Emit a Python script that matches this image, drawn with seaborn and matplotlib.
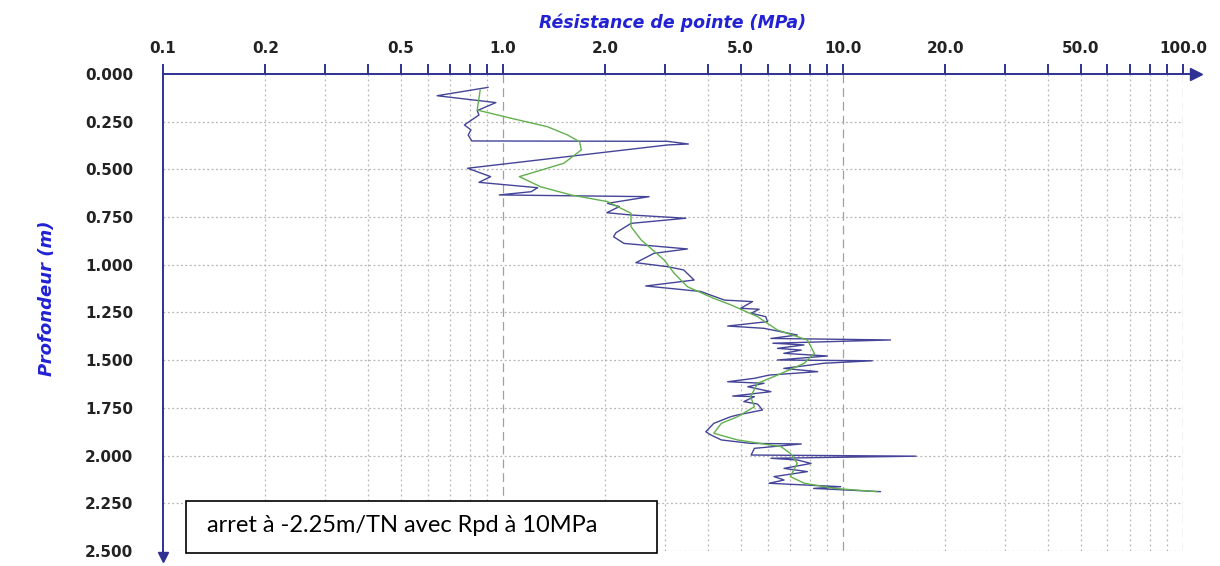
import numpy as np
import pandas as pd
import matplotlib
matplotlib.use('Agg')
import matplotlib.pyplot as plt
import seaborn as sns
from matplotlib.patches import Rectangle

# raw dynamic penetrometer reading (blue)
depth_raw = [0.070, 0.114, 0.150, 0.192, 0.215, 0.267, 0.293, 0.320, 0.351, 0.353,
             0.367, 0.372, 0.494, 0.538, 0.568, 0.596, 0.617, 0.634, 0.643, 0.678,
             0.695, 0.727, 0.739, 0.756, 0.783, 0.832, 0.853, 0.888, 0.917, 0.940,
             0.989, 1.010, 1.027, 1.080, 1.111, 1.140, 1.185, 1.193, 1.228, 1.233,
             1.254, 1.272, 1.298, 1.321, 1.333, 1.368, 1.386, 1.394, 1.411, 1.420,
             1.438, 1.447, 1.464, 1.478, 1.499, 1.503, 1.516, 1.543, 1.560, 1.578,
             1.595, 1.613, 1.621, 1.639, 1.665, 1.688, 1.691, 1.717, 1.730, 1.761,
             1.787, 1.796, 1.831, 1.875, 1.892, 1.918, 1.936, 1.939, 1.962, 1.997,
             2.003, 2.014, 2.023, 2.041, 2.067, 2.084, 2.110, 2.128, 2.145, 2.163,
             2.172, 2.189]
qd_raw = [0.905, 0.64, 0.953, 0.84, 0.85, 0.77, 0.805, 0.79, 0.81, 3.05,
          3.51, 3.05, 0.787, 0.92, 0.85, 1.265, 1.21, 0.975, 2.69, 2.03,
          2.2, 2.02, 2.38, 3.45, 2.38, 2.15, 2.115, 2.27, 3.49, 2.78,
          2.46, 3.05, 3.4, 3.65, 2.63, 3.82, 4.48, 5.42, 5.0, 5.67,
          5.37, 5.93, 6.0, 4.58, 5.86, 7.34, 6.14, 13.8, 6.22, 7.68,
          6.42, 7.54, 6.7, 9.0, 6.42, 12.2, 8.8, 6.7, 8.43, 6.07,
          5.49, 4.58, 5.86, 5.25, 6.14, 4.74, 5.49, 5.11, 5.61, 5.8,
          4.9, 4.68, 4.17, 3.95, 4.09, 4.39, 5.35, 7.54, 5.49, 5.37,
          16.4, 6.14, 7.34, 8.06, 6.71, 7.86, 6.27, 6.71, 6.06, 9.85,
          8.2, 12.9]

# smoothed curve (green)
depth_smooth = [0.084, 0.189, 0.232, 0.276, 0.320, 0.355, 0.398, 0.468, 0.538, 0.591,
                0.634, 0.669, 0.730, 0.800, 0.870, 0.975, 1.045, 1.115, 1.176, 1.210,
                1.272, 1.342, 1.394, 1.464, 1.516, 1.578, 1.621, 1.691, 1.744, 1.796,
                1.831, 1.883, 1.918, 1.953, 1.988, 2.040, 2.110, 2.145, 2.172, 2.189]
qd_smooth = [0.857, 0.84, 1.056, 1.35, 1.55, 1.68, 1.70, 1.51, 1.117, 1.29,
             1.585, 2.03, 2.38, 2.38, 2.55, 2.98, 3.19, 3.49, 4.17, 4.68,
             5.61, 6.42, 7.86, 8.24, 7.7, 6.42, 5.61, 5.35, 5.49, 4.9,
             4.39, 4.17, 4.9, 6.57, 7.0, 7.34, 7.0, 7.7, 9.44, 12.6]

x_ticks = [0.1, 0.2, 0.3, 0.4, 0.5, 0.6, 0.7, 0.8, 0.9,
           1, 2, 3, 4, 5, 6, 7, 8, 9,
           10, 20, 30, 40, 50, 60, 70, 80, 90, 100]
x_tick_labels = ['0.1', '0.2', '', '', '0.5', '', '', '', '',
                 '1.0', '2.0', '', '', '5.0', '', '', '', '',
                 '10.0', '20.0', '', '', '50.0', '', '', '', '', '100.0']
decades = [1, 10, 100]
y_ticks = [0.0, 0.25, 0.5, 0.75, 1.0, 1.25, 1.5, 1.75, 2.0, 2.25, 2.5]

axis_col = '#2e3192'
raw_col = '#444498'
smooth_col = '#62b04e'
title_col = '#2222d4'

raw = pd.DataFrame({'depth': depth_raw, 'qd': qd_raw})
smooth = pd.DataFrame({'depth': depth_smooth, 'qd': qd_smooth})

sns.set_style('white')
plt.rcParams['font.family'] = ['DejaVu Sans']

fig = plt.figure(figsize=(12.2, 5.66), dpi=100)
ax = fig.add_axes([0.1336, 0.0265, 0.836, 0.8428])

ax.set_xscale('log')
ax.set_xlim(0.1, 100)
ax.set_ylim(2.5, 0)

# grid: dotted on minor values, dashed on decades
minor = [v for v in x_ticks if v not in decades and v != 0.1]
ax.vlines(minor, 0, 2.5, colors='#b5b5b5', linestyles=(0, (1.5, 2.5)), lw=0.9, zorder=0)
ax.vlines(decades, 0, 2.5, colors='#a0a0a0', linestyles=(0, (7, 4)), lw=0.9, zorder=0)
ax.hlines(y_ticks[1:], 0.1, 100, colors='#b5b5b5', linestyles=(0, (1.5, 2.0)), lw=0.9, zorder=0)

sns.lineplot(data=smooth, x='qd', y='depth', sort=False, estimator=None,
             color=smooth_col, lw=1.0, ax=ax, zorder=3)
sns.lineplot(data=raw, x='qd', y='depth', sort=False, estimator=None,
             color=raw_col, lw=1.0, ax=ax, zorder=2)

ax.xaxis.tick_top()
ax.xaxis.set_label_position('top')
ax.set_xticks(x_ticks)
ax.set_xticklabels(x_tick_labels)
ax.xaxis.set_minor_locator(matplotlib.ticker.NullLocator())
ax.set_yticks(y_ticks)
ax.set_yticklabels(['%.3f' % v for v in y_ticks])

ax.tick_params(axis='x', direction='out', length=7, width=1.4, color=axis_col,
               labelsize=11, labelcolor='#222222', pad=6)
ax.tick_params(axis='y', direction='out', length=10.5, width=1.6, color=axis_col,
               labelsize=11, labelcolor='#222222', pad=11)
for lab in ax.get_xticklabels() + ax.get_yticklabels():
    lab.set_fontweight('bold')

for s in ['right', 'bottom']:
    ax.spines[s].set_visible(False)
for s in ['top', 'left']:
    ax.spines[s].set_color(axis_col)
    ax.spines[s].set_linewidth(1.4)

# arrows on axis ends
ax.plot([1.0, 1.01], [1, 1], color=axis_col, lw=1.4, transform=ax.transAxes, clip_on=False)
ax.plot(1.013, 1, marker='>', ms=8, color=axis_col, transform=ax.transAxes, clip_on=False)
ax.plot([0, 0], [0, -0.008], color=axis_col, lw=1.4, transform=ax.transAxes, clip_on=False)
ax.plot(0, -0.013, marker='v', ms=7, color=axis_col, transform=ax.transAxes, clip_on=False)

ax.set_xlabel('Résistance de pointe (MPa)', color=title_col, fontsize=12.5,
              fontweight='bold', style='italic', labelpad=9)
ax.set_ylabel('Profondeur (m)', color=title_col, fontsize=13,
              fontweight='bold', style='italic')
ax.yaxis.set_label_coords(-0.105, 0.53)

# annotation box
ax.add_patch(Rectangle((0.0225, -0.004), 0.462, 0.109, transform=ax.transAxes,
                       facecolor='white', edgecolor='black', lw=1.2, zorder=5, clip_on=False))
ax.text(0.043, 0.054, 'arret à -2.25m/TN avec Rpd à 10MPa', transform=ax.transAxes,
        ha='left', va='center', fontsize=17, family=['Lato', 'DejaVu Sans'],
        color='black', zorder=6)

fig.savefig('out.png', dpi=100)
